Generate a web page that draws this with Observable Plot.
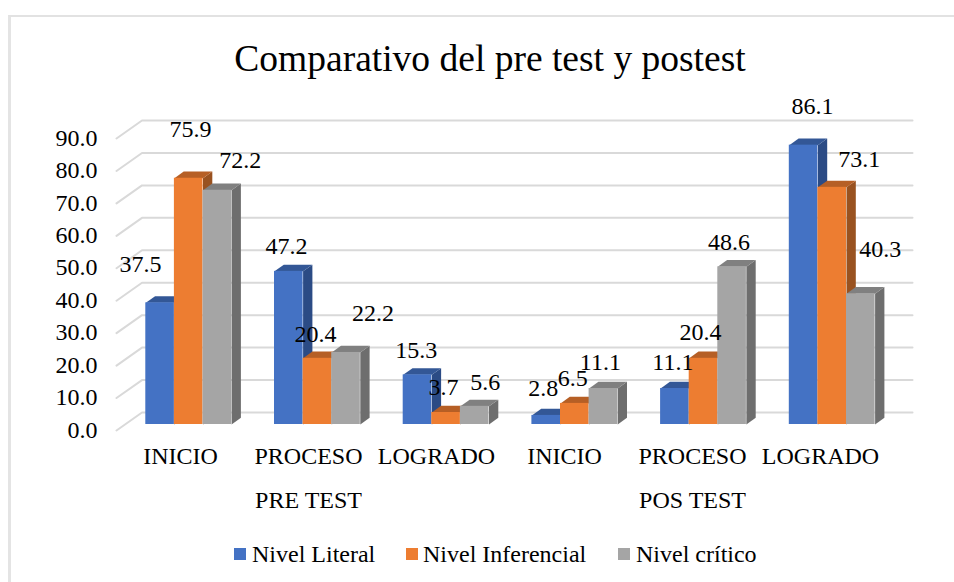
<!DOCTYPE html>
<html lang="es">
<head>
<meta charset="utf-8">
<script src="https://cdn.jsdelivr.net/npm/d3@7"></script>
<script src="https://cdn.jsdelivr.net/npm/@observablehq/plot@0.6"></script>
<style>
html,body{margin:0;padding:0;background:#fff;}
#page{position:relative;width:954px;height:582px;overflow:hidden;font-family:"Liberation Serif","Times New Roman",serif;color:#000;}
#frame{position:absolute;left:8px;top:15px;width:960px;height:600px;border-left:3px solid #e4e4e4;border-top:2px solid #e2e2e2;box-sizing:border-box;}
#title{position:absolute;left:0;top:37px;width:980px;text-align:center;font-size:37.5px;line-height:44px;}
#chart{position:absolute;left:0;top:70px;}
#chart svg{display:block;background:transparent;}
.lg{position:absolute;top:541px;font-size:24px;line-height:26px;white-space:nowrap;}
.sw{position:absolute;top:548px;width:12px;height:12px;}
</style>
</head>
<body>
<div id="page">
  <div id="frame"></div>
  <div id="title">Comparativo del pre test y postest</div>
  <div id="chart"></div>
  <div class="sw" style="left:234px;background:#4472C4"></div><div class="lg" style="left:252px">Nivel Literal</div>
  <div class="sw" style="left:406px;background:#ED7D31"></div><div class="lg" style="left:423px">Nivel Inferencial</div>
  <div class="sw" style="left:618px;background:#A5A5A5"></div><div class="lg" style="left:636px">Nivel crítico</div>
</div>
<script>
const categories = ["INICIO", "PROCESO", "LOGRADO", "INICIO", "PROCESO", "LOGRADO"];
const phases = ["PRE TEST", "POS TEST"];
const nivelLiteral = [37.5, 47.2, 15.3, 2.8, 11.1, 86.1];
const nivelInferencial = [75.9, 20.4, 3.7, 6.5, 20.4, 73.1];
const nivelCritico = [72.2, 22.2, 5.6, 11.1, 48.6, 40.3];
const yTicks = [0, 10, 20, 30, 40, 50, 60, 70, 80, 90];

// face colours: front, side, top
const palette = [
  ["#4472C4", "#2B4B85", "#335796"],
  ["#ED7D31", "#995220", "#B65F25"],
  ["#A5A5A5", "#6E6E6E", "#808080"]
];
// hand placement of the labels, as in the original (pixels from the bar's top centre)
const nudges = [
  [[-19.6, 38.5], [1.7, 49], [23, 30]],
  [[-2.3, 25], [-2, 24], [27, 39]],
  [[-1.3, 25], [-2.7, 25], [10.6, 24]],
  [[-3, 27], [-2, 25], [-3, 26]],
  [[-2, 26], [-3, 26], [-3, 25]],
  [[9, 39], [27, 28], [19.5, 44]]
];

const pxX = 128.7, pxY = 3.245;
const barW = 28.6 / pxX, startOff = 29.3 / pxX;
const depthX = 9.3 / pxX, depthY = 6.7 / pxY;
const series = [nivelLiteral, nivelInferencial, nivelCritico];
const labelStep = 128 / pxX; // the axis labels sit slightly closer together than the bars

const fronts = [], faces = [], labels = [];
categories.forEach((_, g) => {
  series.forEach((vals, b) => {
    const v = vals[g], x1 = g + startOff + b * barW, x2 = x1 + barW, id = g + "-" + b;
    fronts.push({x1, x2, y1: 0, y2: v, fill: palette[b][0]});
    faces.push(
      {id: id + "s", x: x2, y: 0, fill: palette[b][1]},
      {id: id + "s", x: x2 + depthX, y: depthY, fill: palette[b][1]},
      {id: id + "s", x: x2 + depthX, y: v + depthY, fill: palette[b][1]},
      {id: id + "s", x: x2, y: v, fill: palette[b][1]},
      {id: id + "t", x: x1, y: v, fill: palette[b][2]},
      {id: id + "t", x: x2, y: v, fill: palette[b][2]},
      {id: id + "t", x: x2 + depthX, y: v + depthY, fill: palette[b][2]},
      {id: id + "t", x: x1 + depthX, y: v + depthY, fill: palette[b][2]}
    );
    const [nx, ny] = nudges[g][b];
    labels.push({x: (x1 + x2) / 2 + nx / pxX, y: v + ny / pxY, text: v.toFixed(1)});
  });
});

const wallFront = -6 / pxY, wallBack = 12 / pxY, wallX = 25.5 / pxX, wallEnd = 796 / pxX;
const grid = yTicks.flatMap(v => [
  {v, x: 0, y: v + wallFront},
  {v, x: wallX, y: v + wallBack},
  {v, x: wallEnd, y: v + wallBack}
]);

const font = "Liberation Serif";
const plot = Plot.plot({
  width: 954,
  height: 450,
  marginLeft: 116,
  marginRight: 65.8,
  marginTop: 62,
  marginBottom: 96,
  style: {background: "transparent", fontFamily: font, color: "#000"},
  x: {domain: [0, 6], axis: null},
  y: {domain: [0, 90], axis: null},
  marks: [
    Plot.line(grid, {x: "x", y: "y", z: "v", stroke: "#D9D9D9", strokeWidth: 2}),
    Plot.axisY({ticks: yTicks, tickSize: 0, tickPadding: 19, dy: 5.5, fontSize: 24, tickFormat: d => d.toFixed(1), label: null, anchor: "left"}),
    Plot.axisX({ticks: categories.map((_, i) => (i + 0.5) * labelStep), tickFormat: (d, i) => categories[i], tickSize: 0, tickPadding: 22, fontSize: 24, label: null, anchor: "bottom"}),
    Plot.axisX({ticks: [1.5 * labelStep, 4.5 * labelStep], tickFormat: (d, i) => phases[i], tickSize: 0, tickPadding: 66, fontSize: 24, label: null, anchor: "bottom"}),
    Plot.line(faces, {x: "x", y: "y", z: "id", fill: d => d.fill, stroke: "none", curve: "linear-closed"}),
    Plot.rect(fronts, {x1: "x1", x2: "x2", y1: "y1", y2: "y2", fill: d => d.fill}),
    Plot.text(labels, {x: "x", y: "y", text: "text", fontSize: 24, fill: "#000"})
  ]
});
document.getElementById("chart").appendChild(plot);
</script>
</body>
</html>
